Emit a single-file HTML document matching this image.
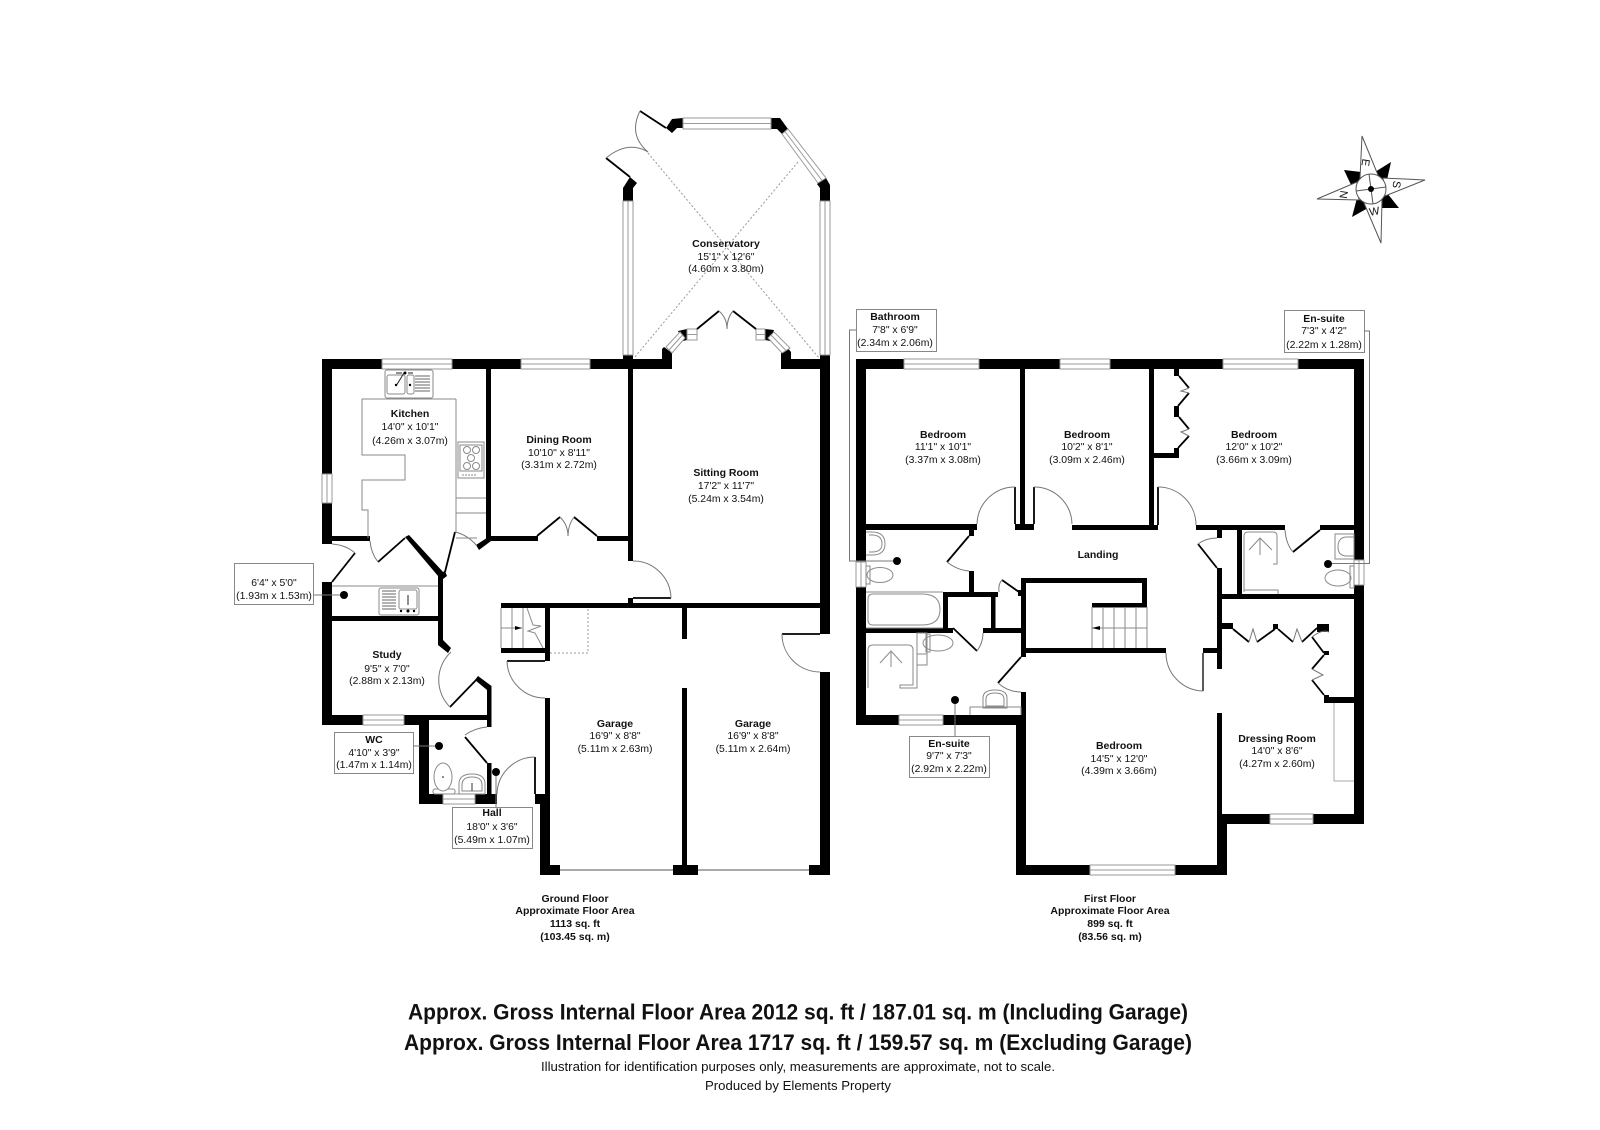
<!DOCTYPE html>
<html><head><meta charset="utf-8"><style>
html,body{margin:0;padding:0;background:#fff;width:1600px;height:1130px;overflow:hidden}
svg{display:block}
text{font-family:"Liberation Sans",sans-serif;fill:#111;text-anchor:middle}
.b{font-weight:bold;font-size:10.5px}
.r{font-size:10.4px}
.w{fill:#000;stroke:none}
.g{fill:none;stroke:#8a8a8a;stroke-width:1}
.f{fill:#fff;stroke:#8a8a8a;stroke-width:1}
.l{fill:none;stroke:#000;stroke-width:1.8}
.a{fill:none;stroke:#777;stroke-width:1}
.win{fill:#fff;stroke:#999;stroke-width:1}
.box{fill:#fff;stroke:#888;stroke-width:1}
.d{fill:none;stroke:#999;stroke-width:1;stroke-dasharray:2 2}
</style></head><body>
<svg width="1600" height="1130" viewBox="0 0 1600 1130" xmlns="http://www.w3.org/2000/svg">
<rect width="1600" height="1130" fill="#fff"/>

<!-- GROUND FLOOR WALLS -->
<g class="w">
<rect x="322" y="359" width="60" height="10"/>
<rect x="452" y="359" width="69" height="10"/>
<rect x="590" y="359" width="82" height="10"/>
<rect x="781" y="359" width="49" height="10"/>
<rect x="322" y="359" width="10" height="115"/>
<rect x="322" y="503" width="10" height="41"/>
<rect x="332" y="536" width="38" height="5"/>
<rect x="486" y="369" width="5" height="171"/>
<rect x="491" y="536" width="47" height="5"/>
<rect x="597" y="536" width="36" height="5"/>
<rect x="628" y="369" width="5" height="192"/>
<rect x="628" y="598" width="5" height="7"/>
<rect x="820" y="355" width="10" height="279"/>
<rect x="623" y="355" width="10" height="6"/>
<rect x="820" y="672" width="10" height="203"/>
<rect x="501" y="603" width="319" height="5"/>
<rect x="682" y="608" width="5" height="31"/>
<rect x="682" y="688" width="5" height="177"/>
<rect x="673" y="865" width="25" height="10"/>
<rect x="809" y="865" width="21" height="10"/>
<rect x="540" y="804" width="10" height="71"/>
<rect x="540" y="865" width="20" height="10"/>
<rect x="535" y="794" width="15" height="10"/>
<rect x="545" y="698" width="5" height="96"/>
<rect x="545" y="608" width="5" height="53"/>
<rect x="501" y="648" width="44" height="5"/>
<rect x="438" y="575" width="5" height="68"/>
<rect x="332" y="616" width="106" height="5"/>
<rect x="322" y="582" width="10" height="143"/>
<rect x="322" y="715" width="41" height="10"/>
<rect x="404" y="715" width="25" height="10"/>
<rect x="429" y="715" width="58" height="5"/>
<rect x="419" y="715" width="10" height="89"/>
<rect x="419" y="794" width="24" height="10"/>
<rect x="475" y="794" width="22" height="10"/>
<rect x="487" y="763" width="4.500" height="31"/>
<rect x="487" y="688" width="4.500" height="39"/>
<polygon points="478,676 491.500,686 491.500,690 487,690 475,680"/>
<polygon points="438,640 443,640 451,648 448,653 438,645"/>
<polygon points="405,537 409,535 444,573 441,578 438,576"/>
<polygon points="476,545 490,536 491,541 479,550"/>
<polygon points="441,573 445,571 447,576 443,579"/>
<polygon points="623,201 623,188 630,177 637,183 633,188 633,201"/>
<polygon points="666,128 672,119 683,118 683,128 677,128 672,133"/>
<polygon points="771,118 780,118 788,129 782,134 777,129 771,129"/>
<polygon points="826,178 830,185 830,201 820,201 820,188 817,184"/>
<polygon points="662,359 662,349 664,347 672,353 672,369 662,369"/>
<polygon points="678,331 687,329 687,340 683,341"/>
<polygon points="765,329 774,330 770,341 765,340"/>
<polygon points="781,369 781,353 787,347 791,352 791,359 781,369"/>
</g>

<!-- ground windows -->
<g class="win">
<rect x="382" y="359" width="70" height="10"/><line x1="382" y1="364" x2="452" y2="364"/>
<rect x="521" y="359" width="69" height="10"/><line x1="521" y1="364" x2="590" y2="364"/>
<rect x="322" y="474" width="10" height="29"/><line x1="327" y1="474" x2="327" y2="503"/>
<rect x="363" y="715" width="41" height="10"/><line x1="363" y1="720" x2="404" y2="720"/>
<rect x="443" y="794" width="32" height="10"/><line x1="443" y1="799" x2="475" y2="799"/>
<rect x="683" y="118" width="88" height="11"/><line x1="683" y1="123.500" x2="771" y2="123.500"/>
<rect x="623" y="201" width="10" height="154"/><line x1="628" y1="201" x2="628" y2="355"/>
<rect x="820" y="201" width="10" height="154"/><line x1="825" y1="201" x2="825" y2="355"/>
<polygon points="788,129 826,178 818,183 782,134"/><line x1="785" y1="131.500" x2="822" y2="180.500"/>
<polygon points="666,347 680,332 685,338 672,353"/><line x1="669" y1="350" x2="682.500" y2="335"/>
<polygon points="774,332 790,348 782,353 768,338"/><line x1="771" y1="335" x2="786" y2="350.500"/>
<rect x="687" y="329" width="10" height="11"/><line x1="687" y1="334.500" x2="697" y2="334.500"/>
<rect x="756" y="329" width="9" height="11"/><line x1="756" y1="334.500" x2="765" y2="334.500"/>
</g>
<rect x="560" y="869" width="113" height="2" fill="#aaa"/>
<rect x="698" y="869" width="111" height="2" fill="#aaa"/>

<!-- ground doors -->
<g class="l">
<polyline points="378,562 405,538"/>
<polyline points="445,572 455,532"/>
<polyline points="537,536 560,517"/>
<polyline points="574,517 597,536"/>
<polyline points="332,582 355,553"/>
<polyline points="450,707 478,678"/>
<polyline points="465,737 487,763"/>
<polyline points="630,177 606,158"/>
<polyline points="640,111 666,128"/>
<polyline points="697,329 719,311"/>
<polyline points="733,311 756,329"/>
<line x1="535" y1="757" x2="535" y2="794"/>
<line x1="633" y1="598" x2="671" y2="598"/>
<line x1="507" y1="661" x2="545" y2="661"/>
<line x1="782" y1="634" x2="820" y2="634"/>
</g>
<g class="a">
<path d="M370 541 Q371 553 378 562"/>
<path d="M455 532 Q468 535 477 546"/>
<path d="M560 517 Q568 525 568 536 Q568 525 574 517"/>
<path d="M332 544 Q346 545 355 553"/>
<path d="M450 707 A38 38 0 0 1 451 652"/>
<path d="M465 735 Q475 728 487 727"/>
<path d="M535 757 A38 38 0 0 0 497 794"/>
<path d="M633 561 A38 38 0 0 1 671 598"/>
<path d="M507 661 A38 38 0 0 0 545 698"/>
<path d="M782 634 A38 38 0 0 0 820 672"/>
<path d="M606 158 Q628 140 648 152"/>
<path d="M640 111 Q628 135 648 152"/>
<path d="M719 311 Q727 318 727 329 Q727 318 733 311"/>
</g>
<path class="d" d="M648 153 L819 358 M798 162 L634 358"/>
<path class="d" d="M550 653 H588 V608"/>

<!-- kitchen fixtures -->
<g class="g">
<path d="M456 399 H362 V455 H405 V480 H362 V510 H368 V538"/>
<path d="M456 399 V532"/>
<path d="M456 498 H486 M456 513 H486 M456 538 H477"/>
<rect x="385" y="370" width="48" height="28" rx="2"/>
<rect x="387" y="375" width="18" height="19" rx="2"/>
<rect x="407" y="375" width="7" height="19" rx="2"/>
<rect x="458" y="442" width="26" height="36"/>
<rect x="460" y="445" width="22" height="26"/>
<circle cx="467" cy="450" r="3.500"/><circle cx="476" cy="450" r="3.500"/><circle cx="471" cy="458" r="3.500"/><circle cx="467" cy="466" r="3.500"/><circle cx="476" cy="466" r="3.500"/>
<path d="M462 475 H476" stroke-dasharray="2 1"/>
<rect x="379" y="588" width="40" height="27" rx="2"/>
<rect x="399" y="590" width="18" height="19" rx="2"/>
</g>
<path d="M415 376 H430 M415 379 H430 M415 382 H430 M415 385 H430 M415 388 H430 M415 391 H430 M382 591 H396 M382 594 H396 M382 597 H396 M382 600 H396 M382 603 H396 M382 606 H396 M382 609 H396" stroke="#666" stroke-width="1"/>
<path d="M404 373 L396 386 M396 373 H402 M408 373 H413 M408 605 V595" stroke="#222" fill="none" stroke-width="1"/>
<g fill="#000"><circle cx="405" cy="373" r="1.500"/><circle cx="396" cy="385" r="1.200"/><circle cx="410" cy="385" r="1.200"/><circle cx="408" cy="611" r="1.500"/><circle cx="401" cy="611" r="1.200"/><circle cx="414" cy="611" r="1.200"/></g>
<line x1="332" y1="586" x2="438" y2="586" stroke="#8a8a8a"/>

<!-- WC fixtures -->
<g class="f">
<rect x="433" y="789" width="22" height="5" rx="2"/>
<ellipse cx="443" cy="777" rx="9" ry="14"/>
<path d="M459 794 V784 Q459 774 472 774 Q485 774 485 784 V794 Z"/>
<path d="M462 791 V785 Q462 777 472 777 Q482 777 482 785 V791 Z"/>
</g>
<circle cx="443" cy="777" r="1" fill="#666"/><line x1="472" y1="783" x2="472" y2="791" stroke="#333"/>

<!-- ground stair -->
<g class="g">
<path d="M501 608 V648 M512 608 V648 M523 608 V648"/>
<path d="M501 628 H522"/>
<path d="M527 608 L533 625 L541 626 L528 631 L535 633 L543 648"/>
</g>
<polygon points="522,628 515,626 515,630" fill="#000"/>

<!-- FIRST FLOOR WALLS -->
<g class="w">
<rect x="856" y="359" width="48" height="10"/>
<rect x="979" y="359" width="81" height="10"/>
<rect x="1110" y="359" width="113" height="10"/>
<rect x="1298" y="359" width="66" height="10"/>
<rect x="856" y="359" width="10" height="203"/>
<rect x="856" y="587" width="10" height="138"/>
<rect x="1354" y="359" width="10" height="201"/>
<rect x="1354" y="585" width="10" height="239"/>
<rect x="1020" y="369" width="5" height="161"/>
<rect x="1149" y="369" width="5" height="156"/>
<rect x="1154" y="453" width="25" height="5"/>
<rect x="1174" y="369" width="5" height="7"/>
<rect x="1174" y="406" width="5" height="11"/>
<rect x="1174" y="448" width="5" height="10"/>
<rect x="866" y="524" width="111" height="6"/>
<rect x="1015" y="524" width="19" height="6"/>
<rect x="1072" y="525" width="86" height="5"/>
<rect x="1196" y="525" width="89" height="5"/>
<rect x="1320" y="525" width="34" height="5"/>
<rect x="1217" y="530" width="5" height="8"/>
<rect x="1217" y="568" width="5" height="101"/>
<rect x="1217" y="713" width="5" height="111"/>
<rect x="1237" y="530" width="5" height="64"/>
<rect x="1217" y="594" width="137" height="5"/>
<rect x="1222" y="814" width="48" height="10"/>
<rect x="1313" y="814" width="51" height="10"/>
<rect x="1217" y="814" width="10" height="61"/>
<rect x="1175" y="865" width="52" height="10"/>
<rect x="1016" y="865" width="74" height="10"/>
<rect x="1016" y="725" width="10" height="150"/>
<rect x="1021" y="692" width="5" height="33"/>
<rect x="866" y="715" width="33" height="10"/>
<rect x="943" y="715" width="83" height="10"/>
<rect x="866" y="628" width="87" height="5"/>
<rect x="983" y="628" width="38" height="5"/>
<rect x="943" y="592" width="5" height="36"/>
<rect x="943" y="592" width="55" height="5"/>
<rect x="991" y="592" width="4.500" height="36"/>
<rect x="969" y="571" width="5" height="21"/>
<rect x="969" y="530" width="5" height="6"/>
<rect x="1021" y="578" width="5" height="79"/>
<rect x="1018" y="590" width="4" height="6"/>
<rect x="1021" y="578" width="126" height="5"/>
<rect x="1142" y="578" width="5" height="29"/>
<rect x="1092" y="603" width="55" height="4.500"/>
<rect x="1021" y="648" width="145" height="5"/>
<rect x="1203" y="648" width="14" height="5"/>
<rect x="1222" y="623" width="11" height="6"/>
<rect x="1273" y="624" width="5" height="5"/>
<rect x="1317" y="624" width="12" height="8"/>
<rect x="1324" y="651" width="5" height="4"/>
<rect x="1324" y="695" width="5" height="8"/>
<rect x="1324" y="697" width="30" height="6"/>
</g>

<g class="win">
<rect x="904" y="359" width="75" height="10"/><line x1="904" y1="364" x2="979" y2="364"/>
<rect x="1060" y="359" width="50" height="10"/><line x1="1060" y1="364" x2="1110" y2="364"/>
<rect x="1223" y="359" width="75" height="10"/><line x1="1223" y1="364" x2="1298" y2="364"/>
<rect x="856" y="562" width="10" height="25"/><line x1="861" y1="562" x2="861" y2="587"/>
<rect x="1354" y="560" width="10" height="25"/><line x1="1359" y1="560" x2="1359" y2="585"/>
<rect x="899" y="715" width="44" height="10"/><line x1="899" y1="720" x2="943" y2="720"/>
<rect x="1270" y="814" width="43" height="10"/><line x1="1270" y1="819" x2="1313" y2="819"/>
<rect x="1090" y="865" width="85" height="10"/><line x1="1090" y1="870" x2="1175" y2="870"/>
</g>

<!-- first floor doors -->
<g class="l">
<line x1="1015" y1="487" x2="1015" y2="524"/>
<line x1="1034" y1="487" x2="1034" y2="524"/>
<line x1="1158" y1="487" x2="1158" y2="525"/>
<polyline points="1293,552 1320,530"/>
<polyline points="1198,544 1217,568"/>
<polyline points="947,562 969,536"/>
<polyline points="953,628 977,651"/>
<polyline points="1002,580 1019,592"/>
<polyline points="998,683 1021,657"/>
<line x1="1203" y1="653" x2="1203" y2="691" stroke-width="1.300"/>
<polyline points="1179,376 1189,388"/><polyline points="1189,393 1178,406"/>
<polyline points="1179,417 1189,429"/><polyline points="1189,436 1178,448"/>
<polyline points="1233,629 1249,642"/><polyline points="1257,642 1275,629"/>
<polyline points="1278,629 1293,642"/><polyline points="1302,642 1317,628"/>
<polyline points="1312,637 1324,653"/><polyline points="1324,655 1312,669"/>
<polyline points="1312,680 1324,695"/>
</g>
<g class="a">
<path d="M1015 487 A38 38 0 0 0 977 524"/>
<path d="M1034 487 A38 38 0 0 1 1072 524"/>
<path d="M1158 487 A38 38 0 0 1 1196 525"/>
<path d="M1285 530 Q1286 544 1293 552"/>
<path d="M1198 544 Q1206 538 1217 538"/>
<path d="M947 562 Q957 570 969 571"/>
<path d="M977 651 Q983 643 983 633"/>
<path d="M1002 580 Q998 584 999 592"/>
<path d="M998 683 Q1008 692 1021 692"/>
<path d="M1166 653 A38 38 0 0 0 1203 691"/>
<path d="M1189 388 L1181 391 L1189 393 M1189 429 L1181 432 L1189 436"/>
<path d="M1249 642 L1253 629 L1257 642 M1293 642 L1297 629 L1302 642"/>
<path d="M1312 669 L1323 675 L1312 680"/>
<path d="M1312 637 Q1322 629 1329 632"/>
</g>

<!-- first-floor stair -->
<g class="g">
<path d="M1092 607 V648 M1103 607 V648 M1114 607 V648 M1125 607 V648 M1136 607 V648 M1147 607 V648 M1092 628 H1147"/>
</g>
<polygon points="1092,628 1100,626 1100,630" fill="#000"/>

<!-- fixtures first floor -->
<g class="g">
<path d="M866 532 H872 Q885 532 885 544 Q885 555 872 555 H866"/>
<path d="M869 535 H872 Q882 535 882 544 Q882 552 872 552 H869"/>
<path d="M866 592 H943"/>
<path d="M866 628 H943"/>
<path d="M873 594 H922 Q940 594 940 609.500 Q940 625 922 625 H873 Q868 625 868 620 V599 Q868 594 873 594 Z"/>
<ellipse cx="880" cy="575" rx="13" ry="7.500"/>
<rect x="866" y="566" width="4" height="18"/>
<path d="M868 688 V650 Q868 645 873 645 H908 Q913 645 913 650 V685 H900 V688 H917 V633"/>
<rect x="917" y="633" width="10" height="32"/>
<path d="M917 654 H927"/>
<ellipse cx="938" cy="643" rx="15" ry="8"/>
<rect x="926" y="634" width="4" height="18"/>
<path d="M880 663 L891 651 L902 663 M891 651 V667"/>
<path d="M983 708 V698 Q983 690 995 690 Q1007 690 1007 698 V708 Z"/>
<path d="M986 706 V699 Q986 693 995 693 Q1004 693 1004 699 V706 Z"/>
<path d="M970 715 V707 H1021 V715"/>
<path d="M1244 592 V536 Q1244 532 1248 532 H1273 Q1277 532 1277 536 V564 H1273 M1244 590 H1278 V594"/>
<path d="M1249 550 L1260 538 L1272 550 M1260 538 V555"/>
<rect x="1335" y="534" width="19" height="25"/>
<path d="M1354 537 H1347 Q1338 537 1338 547 Q1338 556 1347 556 H1354"/>
<ellipse cx="1338" cy="578" rx="13" ry="8"/>
<rect x="1350" y="566" width="4" height="22"/>
<path d="M1334 703 V781 H1354" stroke="#aaa"/>
</g>

<!-- LABEL BOXES -->
<g class="box">
<rect x="234.500" y="563.500" width="79" height="41"/>
<rect x="334.500" y="732.500" width="79" height="41"/>
<rect x="452.500" y="807.500" width="80" height="41"/>
<rect x="856.500" y="309.500" width="80" height="42"/>
<rect x="1284.500" y="310.500" width="80" height="42"/>
<rect x="909.500" y="736.500" width="80" height="41"/>
</g>
<g fill="none" stroke="#777">
<path d="M314 595 H343"/><path d="M413 746 H439"/><path d="M496 772 V807"/>
<path d="M856 330 H849.500 V561 H897"/>
<path d="M1364 331 H1369.500 V563.500 H1328"/>
<path d="M955 700 V736"/>
</g>
<g fill="#000">
<circle cx="344" cy="595" r="4"/><circle cx="439" cy="746" r="4"/><circle cx="496" cy="772" r="4"/>
<circle cx="897" cy="561" r="4"/><circle cx="1328" cy="564" r="4"/><circle cx="955" cy="700" r="4"/>
</g>

<!-- TEXT -->
<text class="b" x="410" y="417">Kitchen</text><text class="r" x="410" y="430">14'0" x 10'1"</text><text class="r" x="410" y="444">(4.26m x 3.07m)</text>
<text class="b" x="559" y="443">Dining Room</text><text class="r" x="559" y="456">10'10" x 8'11"</text><text class="r" x="559" y="468">(3.31m x 2.72m)</text>
<text class="b" x="726" y="476">Sitting Room</text><text class="r" x="726" y="489">17'2" x 11'7"</text><text class="r" x="726" y="502">(5.24m x 3.54m)</text>
<text class="b" x="726" y="247">Conservatory</text><text class="r" x="726" y="260">15'1" x 12'6"</text><text class="r" x="726" y="272">(4.60m x 3.80m)</text>
<text class="b" x="387" y="658">Study</text><text class="r" x="387" y="672">9'5" x 7'0"</text><text class="r" x="387" y="684">(2.88m x 2.13m)</text>
<text class="r" x="274" y="586">6'4" x 5'0"</text><text class="r" x="274" y="599">(1.93m x 1.53m)</text>
<text class="b" x="374" y="743">WC</text><text class="r" x="374" y="756">4'10" x 3'9"</text><text class="r" x="374" y="768">(1.47m x 1.14m)</text>
<text class="b" x="492" y="816">Hall</text><text class="r" x="492" y="830">18'0" x 3'6"</text><text class="r" x="492" y="843">(5.49m x 1.07m)</text>
<text class="b" x="615" y="727">Garage</text><text class="r" x="615" y="739">16'9" x 8'8"</text><text class="r" x="615" y="752">(5.11m x 2.63m)</text>
<text class="b" x="753" y="727">Garage</text><text class="r" x="753" y="739">16'9" x 8'8"</text><text class="r" x="753" y="752">(5.11m x 2.64m)</text>
<text class="b" x="575" y="902">Ground Floor</text><text class="b" x="575" y="914">Approximate Floor Area</text><text class="b" x="575" y="927">1113 sq. ft</text><text class="b" x="575" y="940">(103.45 sq. m)</text>

<text class="b" x="895" y="320">Bathroom</text><text class="r" x="895" y="333">7'8" x 6'9"</text><text class="r" x="895" y="346">(2.34m x 2.06m)</text>
<text class="b" x="1324" y="322">En-suite</text><text class="r" x="1324" y="334">7'3" x 4'2"</text><text class="r" x="1324" y="348">(2.22m x 1.28m)</text>
<text class="b" x="949" y="747">En-suite</text><text class="r" x="949" y="759">9'7" x 7'3"</text><text class="r" x="949" y="772">(2.92m x 2.22m)</text>
<text class="b" x="943" y="438">Bedroom</text><text class="r" x="943" y="450">11'1" x 10'1"</text><text class="r" x="943" y="463">(3.37m x 3.08m)</text>
<text class="b" x="1087" y="438">Bedroom</text><text class="r" x="1087" y="450">10'2" x 8'1"</text><text class="r" x="1087" y="463">(3.09m x 2.46m)</text>
<text class="b" x="1254" y="438">Bedroom</text><text class="r" x="1254" y="450">12'0" x 10'2"</text><text class="r" x="1254" y="463">(3.66m x 3.09m)</text>
<text class="b" x="1098" y="558">Landing</text>
<text class="b" x="1119" y="749">Bedroom</text><text class="r" x="1119" y="762">14'5" x 12'0"</text><text class="r" x="1119" y="774">(4.39m x 3.66m)</text>
<text class="b" x="1277" y="742">Dressing Room</text><text class="r" x="1277" y="754">14'0" x 8'6"</text><text class="r" x="1277" y="767">(4.27m x 2.60m)</text>
<text class="b" x="1110" y="902">First Floor</text><text class="b" x="1110" y="914">Approximate Floor Area</text><text class="b" x="1110" y="927">899 sq. ft</text><text class="b" x="1110" y="940">(83.56 sq. m)</text>

<text x="798" y="1019.500" font-size="22" font-weight="bold" textLength="780" lengthAdjust="spacingAndGlyphs">Approx. Gross Internal Floor Area 2012 sq. ft / 187.01 sq. m (Including Garage)</text>
<text x="798" y="1050" font-size="22" font-weight="bold" textLength="788" lengthAdjust="spacingAndGlyphs">Approx. Gross Internal Floor Area 1717 sq. ft / 159.57 sq. m (Excluding Garage)</text>
<text x="798" y="1071" font-size="13" textLength="514" lengthAdjust="spacingAndGlyphs">Illustration for identification purposes only, measurements are approximate, not to scale.</text>
<text x="798" y="1090" font-size="13" textLength="186" lengthAdjust="spacingAndGlyphs">Produced by Elements Property</text>

<!-- COMPASS -->
<g>
<polygon points="1344,170 1361,172 1362,184 1352,187" fill="#000"/>
<polygon points="1391,162 1387,180 1380,178 1375,172" fill="#000"/>
<polygon points="1399,208 1382,208 1380,198 1387,193" fill="#000"/>
<polygon points="1352,217 1357,198 1366,204 1368,208" fill="#000"/>
<g fill="#fff" stroke="#555" stroke-width="1">
<polygon points="1362,136 1378,175 1360,178"/>
<polygon points="1425,180 1385,196 1383,178"/>
<polygon points="1381,243 1364,203 1382,200"/>
<polygon points="1317,199 1357,182 1359,200"/>
<circle cx="1371" cy="189" r="15"/>
</g>
<path d="M1369 174 L1371 189 L1386 187 M1371 189 L1373 204 M1371 189 L1356 191" stroke="#555" fill="none"/>
<circle cx="1371" cy="189" r="3" fill="#000"/>
<text x="0" y="0" font-size="11" transform="translate(1362,162) rotate(98)">E</text>
<text x="0" y="0" font-size="11" transform="translate(1393,184) rotate(98)">S</text>
<text x="0" y="0" font-size="11" transform="translate(1375,215) rotate(-10)">W</text>
<text x="0" y="0" font-size="11" transform="translate(1340,194) rotate(98)">N</text>
</g>
</svg>
</body></html>
